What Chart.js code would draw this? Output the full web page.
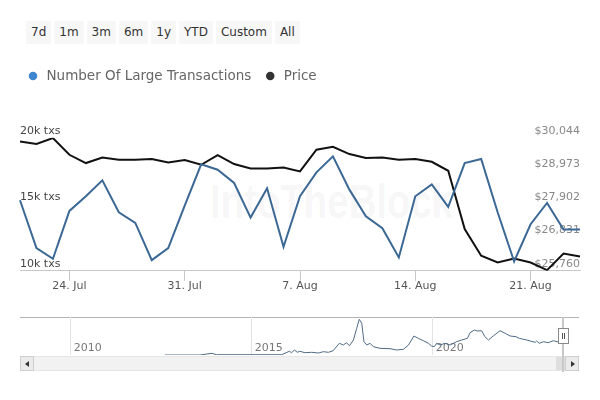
<!DOCTYPE html>
<html>
<head>
<meta charset="utf-8">
<script src="https://cdn.jsdelivr.net/npm/chart.js@4.4.0/dist/chart.umd.min.js"></script>
<style>
  body { margin: 0; background: #fff; font-family: "DejaVu Sans", sans-serif; }
  #wrap { position: relative; width: 600px; height: 400px; overflow: hidden; }
  #ranges { position: absolute; left: 26px; top: 21px; display: flex; gap: 3px; }
  #ranges span { background: #f7f7f7; color: #333; font-size: 12px; line-height: 23px; height: 23px; padding: 0 5px; }
  #mark { position: absolute; left: 210px; top: 178px; font: bold 48px/48px "Liberation Sans", sans-serif;
          color: rgba(0,0,0,0.055); transform: scaleX(0.8); transform-origin: left top; white-space: nowrap; }
  #main { position: absolute; left: 0; top: 0; }
  #nav { position: absolute; left: 0; top: 300px; }
  #navTop { position: absolute; left: 20px; top: 317px; width: 559px; border-top: 1px solid #b4b4b4; }
  #track { position: absolute; left: 20px; top: 356px; width: 559px; height: 15px; box-sizing: border-box;
           background: #f2f2f2; border: 1px solid #e6e6e6; }
  #thumb { position: absolute; left: 556px; top: 357px; width: 9px; height: 13px; background: #dedede; }
  .btn { position: absolute; top: 356px; width: 14px; height: 15px; box-sizing: border-box; background: #ebebeb; border: 1px solid #cfcfcf; }
  #btnL { left: 20px; } #btnR { left: 565px; }
  .btn i { position: absolute; top: 4px; width: 0; height: 0; border-top: 3px solid transparent; border-bottom: 3px solid transparent; }
  #btnL i { left: 4px; border-right: 4px solid #333; }
  #btnR i { left: 5px; border-left: 4px solid #333; }
  #hline { position: absolute; left: 562px; top: 317px; width: 2px; height: 55px; background: #c8c8c8; }
  #handle { position: absolute; left: 558px; top: 328px; width: 11px; height: 16px; box-sizing: border-box; background: #fff; border: 1px solid #8a8a8a; }
  #handle:before, #handle:after { content: ""; position: absolute; top: 4px; width: 1px; height: 6px; background: #555; }
  #handle:before { left: 3px; } #handle:after { left: 5px; }
</style>
</head>
<body>
<div id="wrap">
  <div id="ranges"></div>
  <div id="mark">IntoTheBlock</div>
  <canvas id="main" width="600" height="300"></canvas>
  <div id="navTop"></div>
  <canvas id="nav" width="600" height="56"></canvas>
  <div id="track"></div>
  <div id="thumb"></div>
  <div class="btn" id="btnL"><i></i></div>
  <div class="btn" id="btnR"><i></i></div>
  <div id="hline"></div>
  <div id="handle"></div>
</div>
<script>
var rangeButtons = ['7d', '1m', '3m', '6m', '1y', 'YTD', 'Custom', 'All'];

var dates = ['21. Jul', '22. Jul', '23. Jul', '24. Jul', '25. Jul', '26. Jul', '27. Jul', '28. Jul', '29. Jul', '30. Jul', '31. Jul',
  '1. Aug', '2. Aug', '3. Aug', '4. Aug', '5. Aug', '6. Aug', '7. Aug', '8. Aug', '9. Aug', '10. Aug', '11. Aug', '12. Aug',
  '13. Aug', '14. Aug', '15. Aug', '16. Aug', '17. Aug', '18. Aug', '19. Aug', '20. Aug', '21. Aug', '22. Aug', '23. Aug', '24. Aug'];
var tickDates = ['24. Jul', '31. Jul', '7. Aug', '14. Aug', '21. Aug'];

var largeTxs = [15300, 11700, 10900, 14500, 15600, 16800, 14400, 13600, 10800, 11700, 14900,
  18000, 17600, 16600, 14000, 16200, 11800, 15600, 17400, 18600, 16100, 14100, 13200,
  11000, 15600, 16500, 14800, 18100, 18400, 14400, 10700, 13500, 15100, 13100, 13100];
var price = [29925, 29841, 30034, 29496, 29229, 29409, 29335, 29335, 29358, 29248, 29326,
  29174, 29487, 29197, 29055, 29055, 29087, 28958, 29657, 29754, 29519, 29390, 29409,
  29335, 29358, 29271, 28981, 27103, 26243, 26027, 26156, 26027, 25783, 26317, 26221];

var txTicks = [10000, 15000, 20000];
var priceTicks = [25760, 26831, 27902, 28973, 30044];

// navigator: whole history of large transactions (k txs), by decimal year
var navYears = [2012.6, 2013.57, 2013.9, 2014.03, 2015.83, 2015.95, 2016.04, 2016.1, 2016.18, 2016.26, 2016.33,
  2016.47, 2016.66, 2016.84, 2016.98, 2017.12, 2017.25, 2017.42, 2017.53, 2017.62, 2017.7, 2017.81,
  2017.9, 2017.97, 2018.04, 2018.1, 2018.18, 2018.27, 2018.36, 2018.54, 2018.82, 2019.01, 2019.19,
  2019.33, 2019.48, 2019.6, 2019.74, 2019.88, 2019.97, 2020.04, 2020.11, 2020.2, 2020.34, 2020.48,
  2020.66, 2020.8, 2020.96, 2021.03, 2021.15, 2021.23, 2021.35, 2021.44, 2021.54, 2021.67, 2021.86,
  2022.0, 2022.14, 2022.3, 2022.39, 2022.5, 2022.6, 2022.69, 2022.83, 2022.87, 2022.94, 2023.06,
  2023.19, 2023.33, 2023.47, 2023.64];
var navTxs = [0, 0, 1.7, 0.3, 0.3, 2.3, 3.7, 2.3, 5, 2.7, 3.7,
  2.3, 2.7, 2, 3.3, 2.7, 4.3, 11.7, 10, 12.3, 9.3, 15,
  26.7, 35.7, 31.7, 13.3, 10, 11.7, 8.3, 6.7, 6.3, 5, 5.7,
  10, 19, 16.7, 14.3, 11.7, 9, 8.3, 11.7, 10, 11.7, 10,
  13.3, 15, 16.7, 22.3, 25, 24, 24.3, 18.3, 15, 19, 24.3,
  21.7, 19, 18.3, 16.7, 15.7, 15, 14, 12.7, 14, 11.7, 13.3,
  12.3, 14.3, 13, 13.1];
var navTicks = [2010, 2015, 2020];

var legendColors = ['#3f86cf', '#333333'];

rangeButtons.forEach(function(b) {
  var s = document.createElement('span');
  s.textContent = b;
  document.getElementById('ranges').appendChild(s);
});

Chart.defaults.font.family = '"DejaVu Sans", sans-serif';

// leave room between the legend and the plot, like the original
var legendGap = {
  id: 'legendGap',
  beforeInit: function(chart) {
    var fit = chart.legend.fit;
    chart.legend.fit = function() {
      fit.call(this);
      this.height += 45;
    };
  }
};

new Chart(document.getElementById('main'), {
  type: 'line',
  data: {
    labels: dates,
    datasets: [
      {
        label: 'Number Of Large Transactions',
        data: largeTxs,
        yAxisID: 'yTx',
        borderColor: '#3b6894',
        backgroundColor: legendColors[0],
        borderWidth: 2,
        pointRadius: 0,
        tension: 0
      },
      {
        label: 'Price',
        data: price,
        yAxisID: 'yPrice',
        borderColor: '#111',
        backgroundColor: legendColors[1],
        borderWidth: 2,
        pointRadius: 0,
        tension: 0
      }
    ]
  },
  options: {
    responsive: false,
    animation: false,
    events: [],
    layout: { padding: { left: 14, right: 20, top: 57, bottom: 8 } },
    plugins: {
      tooltip: { enabled: false },
      legend: {
        position: 'top',
        align: 'start',
        labels: {
          usePointStyle: true,
          pointStyle: 'circle',
          boxWidth: 14,
          boxHeight: 6,
          padding: 12.25,
          color: '#666',
          font: { size: 13.5 },
          generateLabels: function(chart) {
            var items = Chart.defaults.plugins.legend.labels.generateLabels(chart);
            items.forEach(function(it, i) {
              it.fillStyle = legendColors[i];
              it.strokeStyle = legendColors[i];
              it.lineWidth = 0;
            });
            return items;
          }
        }
      }
    },
    scales: {
      x: {
        type: 'category',
        offset: false,
        grid: {
          drawOnChartArea: false,
          tickLength: 10,
          color: function(c) { return (c.tick && c.tick.label) ? '#c8c8c8' : 'rgba(0,0,0,0)'; }
        },
        border: { color: '#c8c8c8' },
        ticks: {
          autoSkip: false,
          maxRotation: 0,
          padding: -1,
          color: '#555',
          font: { size: 11 },
          callback: function(value) {
            var lab = this.getLabelForValue(value);
            return tickDates.indexOf(lab) >= 0 ? lab : '';
          }
        }
      },
      yTx: {
        position: 'left',
        min: 10000,
        max: 20000,
        afterBuildTicks: function(axis) { axis.ticks = txTicks.map(function(v) { return { value: v }; }); },
        afterFit: function(axis) { axis.width = 6; },
        grid: { display: false, drawTicks: false },
        border: { display: false },
        ticks: {
          mirror: true,
          padding: 0,
          labelOffset: -7,
          color: '#444',
          font: { size: 11 },
          callback: function(v) { return (v / 1000) + 'k txs'; }
        }
      },
      yPrice: {
        position: 'right',
        min: 25760,
        max: 30044,
        afterBuildTicks: function(axis) { axis.ticks = priceTicks.map(function(v) { return { value: v }; }); },
        afterFit: function(axis) { axis.width = 0; },
        grid: { display: false, drawTicks: false },
        border: { display: false },
        ticks: {
          mirror: true,
          padding: 0,
          labelOffset: -7,
          color: '#888',
          font: { size: 11 },
          callback: function(v) { return '$' + v.toLocaleString('en-US'); }
        }
      }
    }
  },
  plugins: [legendGap]
});

new Chart(document.getElementById('nav'), {
  type: 'line',
  data: {
    datasets: [{
      data: navYears.map(function(x, i) { return { x: x, y: navTxs[i] }; }),
      borderColor: '#4f6b86',
      borderWidth: 1,
      pointRadius: 0,
      tension: 0
    }]
  },
  options: {
    responsive: false,
    animation: false,
    events: [],
    layout: { padding: { left: 20, right: 21, top: 17, bottom: 1 } },
    plugins: { legend: { display: false }, tooltip: { enabled: false } },
    scales: {
      x: {
        type: 'linear',
        min: 2008.6,
        max: 2024.04,
        afterBuildTicks: function(axis) { axis.ticks = navTicks.map(function(v) { return { value: v }; }); },
        grid: { color: '#e3e3e3', drawTicks: false },
        border: { display: false },
        ticks: {
          align: 'start',
          labelOffset: 3,
          padding: -13,
          color: '#777',
          font: { size: 11 },
          callback: function(v) { return String(v); }
        }
      },
      y: { display: false, min: 0, max: 38 }
    }
  }
});
</script>
</body>
</html>
